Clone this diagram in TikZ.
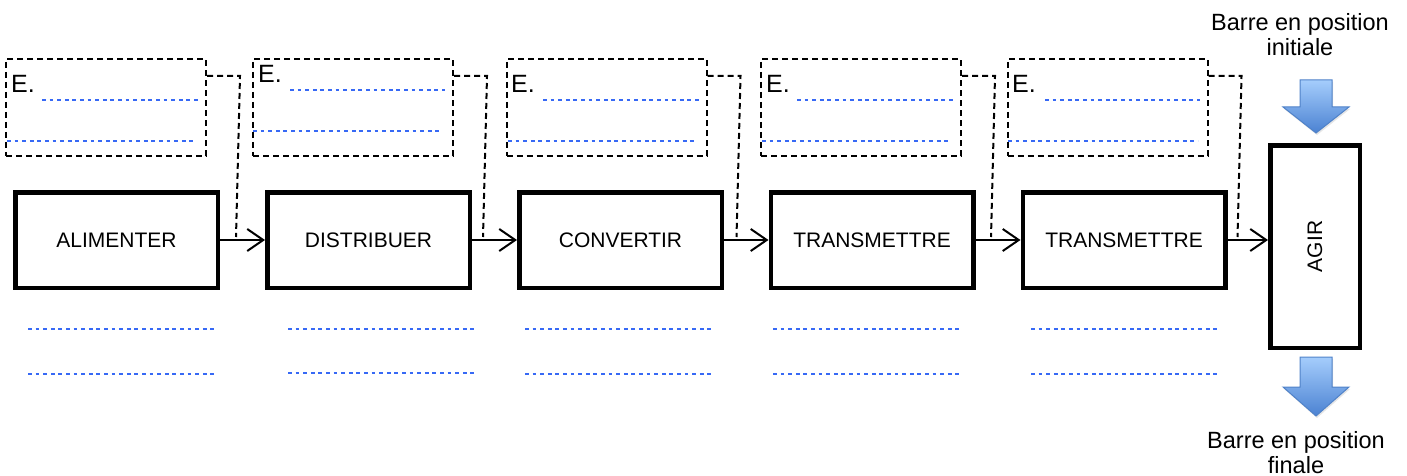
\documentclass[tikz,border=0pt]{standalone}
\usepackage{fontspec}
\setmainfont{Liberation Sans}
\usetikzlibrary{arrows.meta,calc,shadows}
\definecolor{dotblue}{RGB}{55,105,245}
\definecolor{arrtop}{RGB}{165,205,252}
\definecolor{arrbot}{RGB}{75,130,210}
\definecolor{arredge}{RGB}{80,130,200}
\begin{document}
\begin{tikzpicture}[x=1pt,y=-1pt,
  mainbox/.style={draw,line width=4.5pt,minimum width=202.5pt,minimum height=95.5pt,inner sep=0pt,font=\fontsize{21}{24}\selectfont},
  notebox/.style={draw,line width=2pt,dash pattern=on 6pt off 4pt,minimum width=200pt,minimum height=97pt,inner sep=0pt},
  flow/.style={line width=2pt,-{Straight Barb[length=16pt,width=22pt,line width=2pt]}},
  link/.style={line width=2pt,dash pattern=on 6pt off 4pt},
  fillline/.style={dotblue,line width=2.6pt,dash pattern=on 3.8pt off 3.8pt},
  elabel/.style={anchor=base west,inner sep=0pt,font=\fontsize{25}{28}\selectfont},
  caption/.style={align=center,anchor=north,font=\fontsize{23.5}{25}\selectfont,inner sep=0pt},
  blockarrow/.style={top color=arrtop,bottom color=arrbot,draw=arredge,line width=1pt,
    drop shadow={opacity=0.2,shadow xshift=1pt,shadow yshift=-2pt}}
]
\useasboundingbox (0,0) rectangle (1407,476);

% main function boxes
\node[mainbox] (m1) at (116.5,240) {ALIMENTER};
\node[mainbox] (m2) at (368.5,240) {DISTRIBUER};
\node[mainbox] (m3) at (620.5,240) {CONVERTIR};
\node[mainbox] (m4) at (872,240) {TRANSMETTRE};
\node[mainbox] (m5) at (1124,240) {TRANSMETTRE};
\node[mainbox,minimum width=89.5pt,minimum height=202.5pt] (agir) at (1315,246.5) {\rotatebox{90}{AGIR}};

% dashed note boxes
\node[notebox] (d1) at (106,107.5) {};
\node[notebox] (d2) at (353,107.5) {};
\node[notebox] (d3) at (606.5,107.5) {};
\node[notebox] (d4) at (861,107.5) {};
\node[notebox] (d5) at (1107.5,107.5) {};

\node[elabel] (e1) at (11,93) {E.};
\node[elabel] (e2) at (258,83) {E.};
\node[elabel] (e3) at (511,93) {E.};
\node[elabel] (e4) at (766,93) {E.};
\node[elabel] (e5) at (1012,93) {E.};

% blue dotted fill lines inside note boxes
\draw[fillline] (42,100) -- (198,100);   \draw[fillline] (7,141) -- (195,141);
\draw[fillline] (290,90) -- (445,90);    \draw[fillline] (253,131) -- (442,131);
\draw[fillline] (543,100) -- (700,100);  \draw[fillline] (508,141) -- (697,141);
\draw[fillline] (797,100) -- (953,100);  \draw[fillline] (762,141) -- (950,141);
\draw[fillline] (1045,100) -- (1200,100);\draw[fillline] (1008,141) -- (1198,141);

% blue dotted fill lines below
\draw[fillline] (28,329) -- (217,329);   \draw[fillline] (28,374) -- (217,374);
\draw[fillline] (288,329) -- (477,329);  \draw[fillline] (288,373) -- (477,373);
\draw[fillline] (525,329) -- (713,329);  \draw[fillline] (525,374) -- (713,374);
\draw[fillline] (773,329) -- (961,329);  \draw[fillline] (773,374) -- (961,374);
\draw[fillline] (1031,329) -- (1218,329);\draw[fillline] (1031,374) -- (1218,374);

% flow arrows
\draw[flow] (m1.east) -- (m2.west);
\draw[flow] (m2.east) -- (m3.west);
\draw[flow] (m3.east) -- (m4.west);
\draw[flow] (m4.east) -- (m5.west);
\draw[flow] (m5.east) -- (m5.east -| agir.west);

% dashed links from note boxes
\draw[link] ($(d1.north east)+(0,18)$) -- ++(33,0) -- ++(-4,161);
\draw[link] ($(d2.north east)+(0,18)$) -- ++(33,0) -- ++(-4,161);
\draw[link] ($(d3.north east)+(0,18)$) -- ++(33,0) -- ++(-4,161);
\draw[link] ($(d4.north east)+(0,18)$) -- ++(33,0) -- ++(-4,161);
\draw[link] ($(d5.north east)+(0,18)$) -- ++(33,0) -- ++(-4,161);

% block arrows and captions
\path[blockarrow] (1300,80) -- (1332,80) -- (1332,107) -- (1349,107) -- (1316,133) -- (1283,107) -- (1300,107) -- cycle;
\path[blockarrow] (1300,357) -- (1332,357) -- (1332,387) -- (1349,387) -- (1316,416) -- (1283,387) -- (1300,387) -- cycle;
\node[caption] (cin) at (1300,13) {Barre en position\\initiale};
\node[caption] (cout) at (1296,431) {Barre en position\\finale};
\end{tikzpicture}
\end{document}
